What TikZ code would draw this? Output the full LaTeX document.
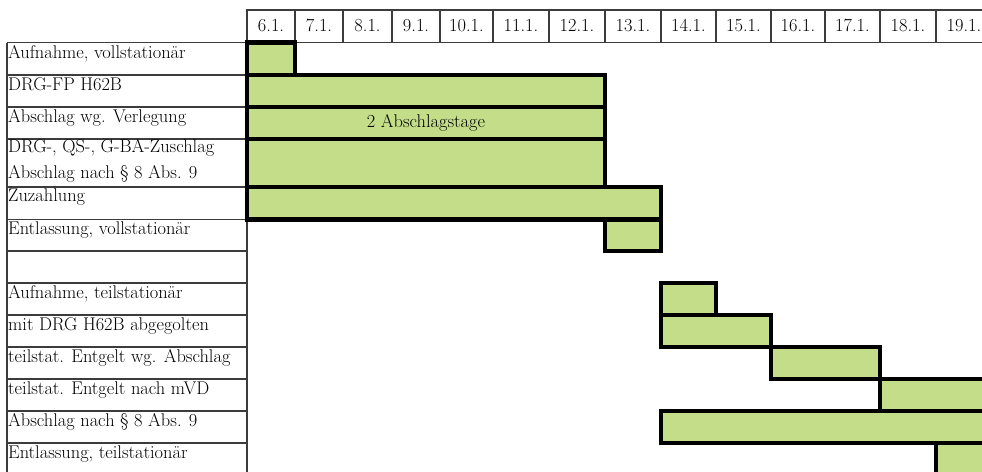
\documentclass[tikz,border=0pt]{standalone}
\usepackage{fontspec}
\definecolor{barfill}{RGB}{196,221,137}
\definecolor{gridgray}{RGB}{60,60,60}
\newcommand\lblfont{\fontsize{18.4}{22}\selectfont}
\tikzset{
  gridrule/.style={draw=gridgray, line width=1.2pt},
  barfillstyle/.style={fill=barfill},
  barframe/.style={draw=black, line width=4.6pt},
  lbl/.style={anchor=base west, inner sep=0pt, font=\lblfont},
  hdr/.style={anchor=base, inner sep=0pt, font=\lblfont},
}
\begin{document}
\begin{tikzpicture}[x=1pt,y=-1pt]
\useasboundingbox (0,0) rectangle (982,471);
\clip (0,0) rectangle (982,471);

% header cells
\foreach \a/\b/\t [count=\i] in {247/295/6.1., 295/343/7.1., 343/392/8.1., 392/440/9.1., 440/493/10.1., 493/549/11.1., 549/605/12.1., 605/661/13.1., 661/716/14.1., 716/771/15.1., 771/825/16.1., 825/880/17.1., 880/936/18.1., 936/992/19.1.}{
  \draw[gridrule] (\a,10) rectangle (\b,42.5);
  \node[hdr] (d\i) at ({(\a+\b)/2},31) {\t};
}

% label table
\draw[gridrule] (7,42.5) -- (7,480);
\draw[gridrule] (247,42.5) -- (247,480);
\foreach \y in {42.5,75,107,139,187,219.3,251,283,315,347,379,411,443}{
  \draw[gridrule] (7,\y) -- (247,\y);
}

% labels
\node[lbl] (l1)  at (8,58)    {Aufnahme, vollstationär};
\node[lbl] (l2)  at (8,90.5)  {DRG-FP H62B};
\node[lbl] (l3)  at (8,122.5) {Abschlag wg. Verlegung};
\node[lbl] (l4)  at (8,152.5) {DRG-, QS-, G-BA-Zuschlag};
\node[lbl] (l5)  at (8,178)   {Abschlag nach § 8 Abs. 9};
\node[lbl] (l6)  at (8,201.5) {Zuzahlung};
\node[lbl] (l7)  at (8,234.5) {Entlassung, vollstationär};
\node[lbl] (l8)  at (8,298.5) {Aufnahme, teilstationär};
\node[lbl] (l9)  at (8,330.5) {mit DRG H62B abgegolten};
\node[lbl] (l10) at (8,362.5) {teilstat. Entgelt wg. Abschlag};
\node[lbl] (l11) at (8,394.5) {teilstat. Entgelt nach mVD};
\node[lbl] (l12) at (8,426.5) {Abschlag nach § 8 Abs. 9};
\node[lbl] (l13) at (8,458.5) {Entlassung, teilstationär};

% bars: fills first, then frames
\def\barlist{247/42.5/295/75, 247/75/605/107, 247/107/605/139, 247/139/605/187, 247/187/661/219.3, 605/219.3/661/251, 661/283/716/315, 661/315/771/347, 771/347/880/379, 880/379/1000/411, 661/411/1000/443, 936/443/1000/480}
\foreach \a/\b/\c/\d in \barlist { \path[barfillstyle] (\a,\b) rectangle (\c,\d); }
\foreach \a/\b/\c/\d in \barlist { \draw[barframe] (\a,\b) rectangle (\c,\d); }

\node[hdr] (abtage) at (426,127) {2 Abschlagstage};
\end{tikzpicture}
\end{document}
